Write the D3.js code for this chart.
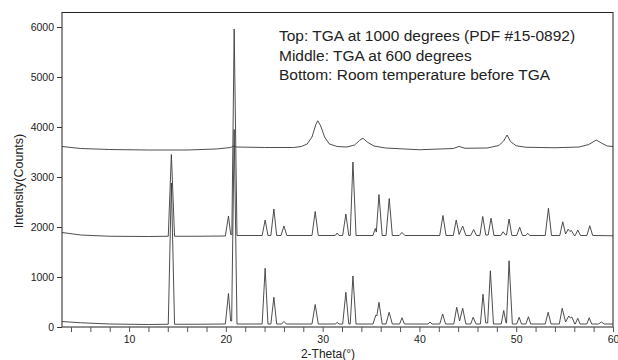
<!DOCTYPE html>
<html><head><meta charset="utf-8">
<script src="https://cdn.jsdelivr.net/npm/d3@7/dist/d3.min.js"></script>
<style>body{margin:0;background:#fff}svg{display:block;font-family:"Liberation Sans",Arial,sans-serif}</style>
</head><body><svg id="c" width="618" height="360"></svg>
<script>
// Top: TGA at 1000 degrees
const topTrace = [[3.07,3610],[5,3570],[8,3550],[12,3540],[16,3540],[19,3560],[20.5,3590],[20.8,3620],[21.1,3600],[24,3590],[27,3590],[27.8,3610],[28.4,3660],[28.9,3800],[29.3,4050],[29.5,4125],[29.8,4020],[30.2,3800],[30.7,3660],[31.5,3610],[32.5,3600],[33.3,3640],[33.8,3730],[34.17,3775],[34.6,3700],[35.3,3620],[36.5,3580],[40,3545],[43.5,3570],[44.1,3612],[44.7,3575],[47,3580],[48.2,3630],[48.7,3720],[49.06,3840],[49.4,3710],[50,3625],[51,3595],[54,3585],[56.5,3600],[57.5,3650],[58.26,3740],[58.8,3680],[59.4,3620],[60,3610]];
// Middle: TGA at 600 degrees
const middleTrace = [[3.07,1890],[5,1840],[8,1815],[12,1810],[14.05,1815],[14.37,3450],[14.7,1815],[17,1815],[19.95,1820],[20.27,2220],[20.5,1850],[20.62,1850],[20.86,5960],[21.15,1830],[23.75,1830],[24.06,2140],[24.35,1830],[24.65,1830],[24.96,2360],[25.25,1830],[25.7,1830],[26.0,2020],[26.3,1830],[28.9,1830],[29.23,2310],[29.55,1830],[31.3,1830],[31.5,1880],[31.7,1830],[32.07,1830],[32.4,2260],[32.7,1830],[32.85,1830],[33.13,3300],[33.45,1830],[35.2,1830],[35.44,1970],[35.55,1900],[35.82,2650],[36.15,1830],[36.55,1830],[36.88,2570],[37.2,1830],[37.9,1830],[38.2,1890],[38.5,1830],[42.1,1830],[42.43,2230],[42.75,1830],[43.5,1830],[43.8,2140],[44.1,1850],[44.47,2020],[44.8,1830],[45.3,1830],[45.6,1950],[45.9,1830],[46.25,1830],[46.54,2210],[46.85,1840],[47.1,1840],[47.4,2175],[47.7,1830],[48.4,1830],[48.64,1905],[48.9,1840],[49.0,1840],[49.26,2160],[49.55,1830],[50.05,1830],[50.36,1995],[50.65,1830],[51.0,1830],[51.19,1875],[51.4,1830],[53.0,1830],[53.33,2375],[53.65,1830],[54.5,1830],[54.81,2105],[55.1,1860],[55.37,1955],[55.55,1910],[55.7,1930],[56.0,1830],[56.1,1830],[56.36,1940],[56.65,1830],[57.3,1830],[57.6,2025],[57.9,1830],[60,1825]];
// Bottom: Room temperature before TGA
const bottomTrace = [[3.07,110],[5,85],[8,60],[12,50],[14.05,55],[14.37,2880],[14.7,55],[17,55],[19.95,60],[20.27,670],[20.5,120],[20.6,120],[20.86,3950],[21.15,60],[23.75,60],[24.06,1175],[24.35,60],[24.65,60],[24.96,595],[25.25,60],[25.75,60],[26.0,110],[26.25,60],[28.9,60],[29.23,450],[29.55,60],[31.3,60],[31.5,90],[31.7,60],[32.07,60],[32.4,695],[32.7,60],[32.85,60],[33.13,1020],[33.45,60],[35.2,60],[35.5,240],[35.6,220],[35.82,495],[36.15,60],[36.55,60],[36.87,295],[37.2,60],[37.95,60],[38.2,185],[38.45,60],[40.9,60],[41.1,100],[41.3,60],[42.1,60],[42.4,260],[42.7,60],[43.55,60],[43.85,395],[44.15,120],[44.47,375],[44.8,60],[45.3,60],[45.55,195],[45.85,60],[46.3,60],[46.57,655],[46.85,80],[47.05,80],[47.33,1125],[47.65,60],[48.45,60],[48.71,330],[48.95,80],[49.0,80],[49.26,1325],[49.6,60],[50.05,60],[50.3,195],[50.55,60],[51.0,60],[51.26,205],[51.5,60],[53.0,60],[53.3,295],[53.6,60],[54.45,60],[54.75,375],[55.1,100],[55.43,220],[55.6,180],[55.75,200],[56.05,60],[56.1,60],[56.36,175],[56.6,60],[57.3,60],[57.54,185],[57.8,60],[58.5,60],[58.8,100],[59.1,60],[60,60]];

const xTickValues = d3.range(4, 61, 2);
const xTickLabels = [10, 20, 30, 40, 50, 60];
const yTickValues = [0, 1000, 2000, 3000, 4000, 5000, 6000];
const legendLines = ["Top: TGA at 1000 degrees (PDF #15-0892)", "Middle: TGA at 600 degrees", "Bottom: Room temperature before TGA"];
const xTitle = "2-Theta(°)";
const yTitle = "Intensity(Counts)";

const svg = d3.select("#c");
const L = 62, R = 613, T = 12.5, B = 327;
const x = d3.scaleLinear().domain([3.07, 60]).range([L, R]);
const y = d3.scaleLinear().domain([0, 6290]).range([B, T]);

const line = d3.line().x(d => x(d[0])).y(d => y(d[1]));
[topTrace, middleTrace, bottomTrace].forEach(tr => {
  svg.append("path").attr("d", line(tr)).attr("fill", "none")
    .attr("stroke", "#3a3a3a").attr("stroke-width", 0.9).attr("stroke-linejoin", "round");
});

// frame
svg.append("rect").attr("x", L).attr("y", T).attr("width", R - L).attr("height", B - T)
  .attr("fill", "none").attr("stroke", "#222").attr("stroke-width", 1);

// x axis
const xa = svg.append("g").attr("transform", `translate(0,${B})`)
  .call(d3.axisBottom(x).tickValues(xTickValues).tickSize(5).tickPadding(4)
    .tickFormat(d => xTickLabels.includes(d) ? d : ""));
xa.select(".domain").remove();
xa.selectAll("line").attr("stroke", "#555");
xa.selectAll("text").attr("font-size", 10.5).attr("fill", "#222").attr("font-family", "Liberation Sans, Arial, sans-serif");

// y axis
const ya = svg.append("g").attr("transform", `translate(${L},0)`)
  .call(d3.axisLeft(y).tickValues(yTickValues).tickSize(5).tickPadding(3).tickFormat(d3.format("d")));
ya.select(".domain").remove();
ya.selectAll("line").attr("stroke", "#333");
ya.selectAll("text").attr("font-size", 10.5).attr("fill", "#222").attr("font-family", "Liberation Sans, Arial, sans-serif");

// titles
svg.append("text").attr("x", 328).attr("y", 357.5).attr("text-anchor", "middle")
  .attr("font-size", 12).attr("fill", "#222").text(xTitle);
svg.append("text").attr("transform", "translate(23,181) rotate(-90)").attr("text-anchor", "middle")
  .attr("font-size", 12.5).attr("fill", "#222").text(yTitle);

// legend text
legendLines.forEach((t, i) => {
  svg.append("text").attr("x", 279).attr("y", 41 + i * 19.5)
    .attr("font-size", 15.5).attr("fill", "#222").text(t);
});
</script></body></html>
